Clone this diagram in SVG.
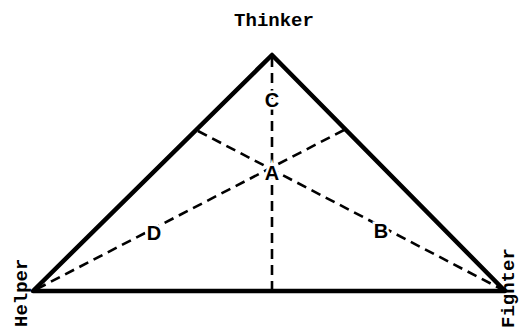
<svg xmlns="http://www.w3.org/2000/svg" width="520" height="329" viewBox="0 0 520 329">
<style>
.side{stroke:#000;stroke-width:4.5;fill:none;stroke-linecap:round;stroke-linejoin:round}
.dash{stroke:#000;stroke-width:2.6;fill:none;stroke-dasharray:10 6}
.name{font-family:"Liberation Mono","DejaVu Sans Mono",monospace;font-weight:bold;font-size:19px;fill:#000}
.lbl{font-family:"Liberation Sans",Arial,sans-serif;font-weight:bold;font-size:20px;fill:#000;text-anchor:middle;stroke:#fff;stroke-width:5;paint-order:stroke}
</style>
<rect width="520" height="329" fill="#fff"/>
<g id="connectors">
<path class="dash" d="M272,57 L272,291"/>
<path class="dash" d="M198,131 L505,291"/>
<path class="dash" d="M344,130 L33,291"/>
<path class="side" d="M33,291 L272,55 L505,291 Z"/>
</g>
<g id="thinker"><text class="name" x="274" y="26" text-anchor="middle">Thinker</text></g>
<g id="helper"><text class="name" transform="translate(27,327) rotate(-90)">Helper</text></g>
<g id="fighter"><text class="name" transform="translate(514,328) rotate(-90)">Fighter</text></g>
<g id="label-c"><text class="lbl" x="272" y="107">C</text></g>
<g id="label-a"><text class="lbl" x="272" y="180">A</text></g>
<g id="label-d"><text class="lbl" x="154" y="240">D</text></g>
<g id="label-b"><text class="lbl" x="381" y="238">B</text></g>
</svg>
